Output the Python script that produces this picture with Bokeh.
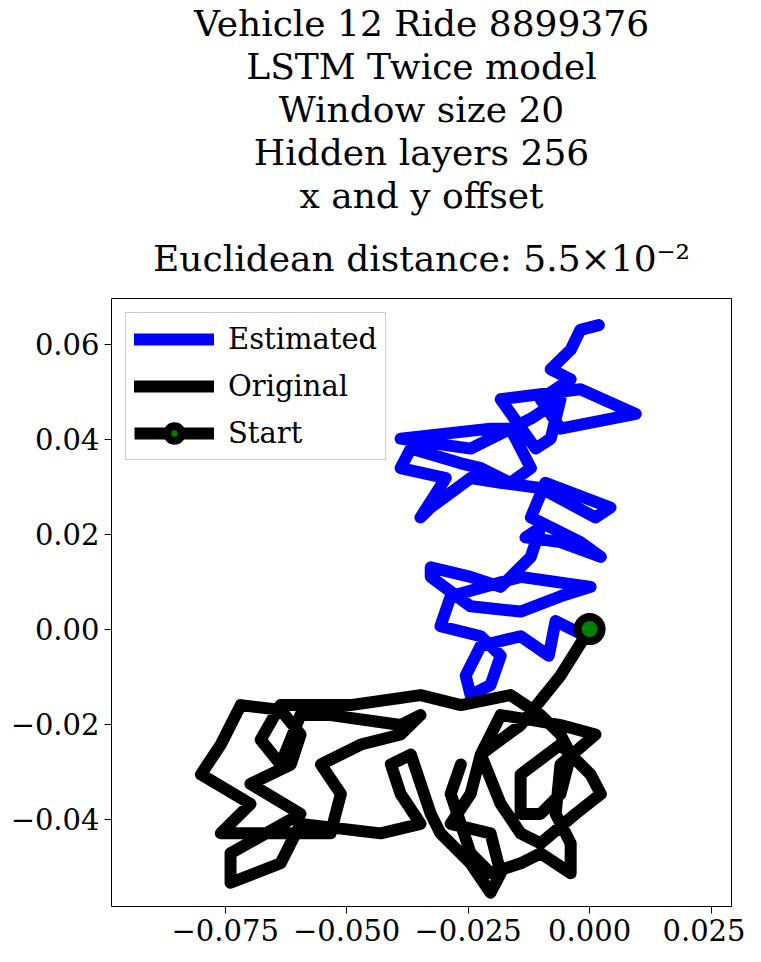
from bokeh.plotting import figure
from bokeh.models import Legend, LegendItem, FixedTicker, CustomJSTickFormatter, Range1d, Title
from bokeh.embed import file_html
from bokeh.resources import INLINE

est_xy = [(-0.0008,-0.0015),(-0.007,0.0017),(-0.0084,-0.0056),(-0.0142,-0.0015),(-0.0224,-0.0035),
(-0.0255,-0.0098),(-0.0245,-0.0139),(-0.0204,-0.0118),(-0.0183,-0.0056),(-0.0224,-0.0015),
(-0.0307,0.0006),(-0.0286,0.0069),(-0.0142,0.011),(0.0002,0.0089),(-0.006,0.0069),
(-0.0142,0.0037),(-0.0245,0.0048),(-0.0327,0.011),(-0.0327,0.013),(-0.0245,0.011),
(-0.0183,0.0089),(-0.0121,0.0152),(-0.0101,0.0214),(-0.0132,0.0193),(-0.006,0.0183),
(0.0023,0.0152),(-0.0019,0.0183),(-0.0121,0.0235),(-0.0091,0.0308),(0.0043,0.0256),
(0.0012,0.0235),(-0.0101,0.0297),(-0.0183,0.0308),(-0.0245,0.0318),(-0.0327,0.0256),
(-0.0348,0.0235),(-0.0296,0.0318),(-0.0389,0.0339),(-0.0368,0.038),(-0.0265,0.0349),
(-0.0224,0.0339),(-0.0163,0.0308),(-0.0121,0.0339),(-0.0163,0.0422),(-0.0204,0.0422),
(-0.0389,0.0401),(-0.0245,0.038),(-0.0121,0.0443),(-0.006,0.0484),(-0.008,0.0401),
(-0.0111,0.038),(-0.0183,0.0484),(-0.0019,0.0505),(0.0095,0.0453),(-0.006,0.0422),
(-0.0101,0.0484),(-0.0039,0.0526),(-0.008,0.0547),(-0.0039,0.0588),(-0.0019,0.063),(0.0019,0.064)]

orig_xy = [(0,0),(-0.006,-0.0098),(-0.0142,-0.0202),(-0.0224,-0.0264),(-0.0245,-0.0347),
(-0.0286,-0.041),(-0.0204,-0.043),(-0.0183,-0.0514),(-0.0204,-0.0555),(-0.0245,-0.0493),
(-0.0307,-0.043),(-0.0327,-0.0389),(-0.0368,-0.0264),(-0.0409,-0.0285),(-0.0389,-0.0347),
(-0.0348,-0.041),(-0.043,-0.043),(-0.0595,-0.041),(-0.0636,-0.0493),(-0.0739,-0.0534),
(-0.0739,-0.0472),(-0.0595,-0.0389),(-0.0698,-0.0326),(-0.0615,-0.0285),(-0.0595,-0.0222),
(-0.0636,-0.017),(-0.0718,-0.016),(-0.0759,-0.0243),(-0.08,-0.0306),(-0.0698,-0.0368),
(-0.0759,-0.043),(-0.0656,-0.043),(-0.0533,-0.043),(-0.0512,-0.0347),(-0.0553,-0.0285),
(-0.0471,-0.0243),(-0.0389,-0.0222),(-0.0348,-0.0181),(-0.0389,-0.0202),(-0.0533,-0.0181),
(-0.0595,-0.0181),(-0.0636,-0.0285),(-0.0677,-0.0233),(-0.0636,-0.016),(-0.0492,-0.016),
(-0.0348,-0.0139),(-0.0265,-0.016),(-0.0163,-0.0139),(-0.0101,-0.0181),(-0.006,-0.0222),
(-0.0039,-0.0264),(-0.006,-0.0347),(-0.0101,-0.0389),(-0.0142,-0.0389),(-0.0142,-0.0306),
(-0.006,-0.0243),(0.0002,-0.0306),(0.0023,-0.0347),(-0.0029,-0.0389),(-0.0101,-0.0451),
(-0.0142,-0.043),(-0.0183,-0.0368),(-0.0224,-0.0264),(-0.0183,-0.0181),(-0.0121,-0.0191),
(-0.006,-0.0202),(0.0012,-0.0222),(-0.006,-0.0285),(-0.007,-0.0389),(-0.0039,-0.0451),
(-0.0039,-0.0514),(-0.0101,-0.0472),(-0.0142,-0.0493),(-0.0204,-0.0514),(-0.0245,-0.0472),
(-0.0286,-0.0347),(-0.0265,-0.0285)]

start_x = [0.0]
start_y = [0.0]
x_ticks = [-0.075, -0.05, -0.025, 0.0, 0.025]
y_ticks = [-0.04, -0.02, 0.0, 0.02, 0.04, 0.06]

title_lines = ["Vehicle 12 Ride 8899376", "LSTM Twice model", "Window size 20",
               "Hidden layers 256", "x and y offset", "Euclidean distance: 5.5\u00d710\u207b\u00b2"]

FONT = "DejaVu Serif"
p = figure(width=745, height=946, output_backend="svg", toolbar_location=None,
           x_range=Range1d(-0.0984, 0.0292), y_range=Range1d(-0.0584, 0.0696),
           min_border_left=111, min_border_right=14, min_border_bottom=40, min_border_top=4)
p.title = None
for i, line in enumerate(reversed(title_lines)):
    p.add_layout(Title(text=line, align="center", text_font=FONT, text_font_size="36px",
                       text_font_style="normal", text_color="black",
                       standoff=(40 if i == 0 else 0)), "above")
p.grid.visible = False
p.outline_line_color = "black"

for ax, ticks, digits in ((p.xaxis[0], x_ticks, 3), (p.yaxis[0], y_ticks, 2)):
    ax.ticker = FixedTicker(ticks=ticks)
    ax.formatter = CustomJSTickFormatter(code=f"return tick.toFixed({digits}).replace('-', '\\u2212');")
    ax.major_label_text_font = FONT
    ax.major_label_text_font_size = "29px"
    ax.major_label_text_color = "black"
    ax.minor_tick_line_color = None
    ax.major_tick_out = 7
    ax.major_tick_in = 0
    ax.axis_line_color = None

ex = [a for a, b in est_xy]; ey = [b for a, b in est_xy]
ox = [a for a, b in orig_xy]; oy = [b for a, b in orig_xy]
r_est = p.line(ex, ey, line_color="blue", line_width=12, line_join="round", line_cap="round")
r_orig = p.line(ox, oy, line_color="black", line_width=12, line_join="round", line_cap="round")
r_sl = p.line(start_x, start_y, line_color="black", line_width=12)
r_s = p.scatter(start_x, start_y, size=24, fill_color="green", line_color="black", line_width=8)

legend = Legend(items=[LegendItem(label="Estimated", renderers=[r_est]),
                       LegendItem(label="Original", renderers=[r_orig]),
                       LegendItem(label="Start", renderers=[r_sl, r_s])],
                location="top_left", label_text_font=FONT, label_text_font_size="29px",
                label_text_color="black",
                glyph_width=80, glyph_height=36, label_height=36, spacing=11,
                border_line_color="#cccccc", border_line_alpha=1, margin=14, padding=8,
                label_standoff=14)
p.add_layout(legend)

open("out.html", "w").write(file_html(p, INLINE))
